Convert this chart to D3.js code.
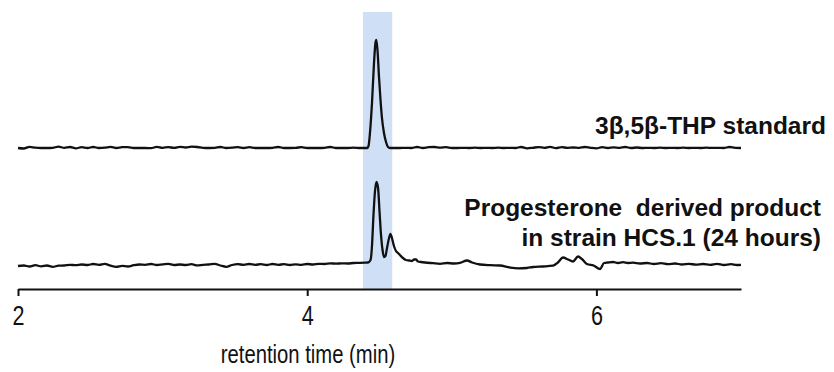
<!DOCTYPE html>
<html><head><meta charset="utf-8">
<script src="https://cdn.jsdelivr.net/npm/d3@7"></script>
<style>body{margin:0;background:#fff}svg{display:block}text{font-family:"Liberation Sans",Arial,sans-serif}</style>
</head><body><svg id="c" width="834" height="372"></svg>
<script>
// ---- data ----
const xTicks = [2, 4, 6];
const xLabel = "retention time (min)";
const band = [4.386, 4.588];
const traceNames = ["3β,5β-THP standard", "Progesterone  derived product|in strain HCS.1 (24 hours)"];
const traceOffsets = [141, 23];   // baseline of each trace, in signal units
// top trace: 3β,5β-THP standard  [time, signal]
const standard = [
[2.00,0],[2.04,-0.5],[2.08,1.2],[2.12,0.3],[2.16,0],[2.20,0],[2.24,0.2],[2.28,1.3],[2.32,0.2],[2.36,1.0],[2.40,-0.3],[2.44,0.8],[2.48,0],[2.52,1.0],[2.56,0],[2.60,0.3],[2.64,1.2],[2.68,0],[2.72,0.8],[2.76,0.9],[2.80,0],[2.84,0],[2.88,0],[2.92,-0.2],[2.96,1.2],[3.00,0.2],[3.04,0.9],[3.08,0.1],[3.12,1.1],[3.16,0.5],[3.20,1.3],[3.24,1.0],[3.28,0.2],[3.32,0],[3.36,0.1],[3.40,1.0],[3.44,0],[3.48,0.3],[3.52,0.9],[3.56,0],[3.60,0.8],[3.64,0],[3.68,0],[3.72,0],[3.76,0.2],[3.80,1.0],[3.84,0],[3.88,0],[3.92,0.1],[3.96,0.9],[4.00,0],[4.04,0],[4.08,0],[4.12,0.2],[4.16,1.0],[4.20,0],[4.24,0],[4.28,0],[4.32,0.3],[4.36,0],[4.40,0],
[4.414,0],[4.424,2],[4.434,15],[4.448,45],[4.462,85],[4.472,105],[4.478,108],[4.486,98],[4.497,70],[4.507,48],[4.517,30],[4.531,15],[4.545,6],[4.559,1],[4.573,0],
[4.60,0],[4.64,0],[4.68,0.2],[4.72,0],[4.76,1.0],[4.80,0],[4.84,0.8],[4.88,1.0],[4.92,0.3],[4.96,0.9],[5.00,0],[5.04,0],[5.08,0.2],[5.12,0],[5.16,0.3],[5.20,0],[5.24,0.2],[5.28,0],[5.32,0.3],[5.36,0],[5.40,0.2],[5.44,0],[5.48,1.0],[5.52,-0.3],[5.56,0.2],[5.60,0.9],[5.64,0.2],[5.68,1.2],[5.72,-0.2],[5.76,0.8],[5.80,0.2],[5.84,0.5],[5.88,0.1],[5.92,1.0],[5.96,0.2],[6.00,-0.3],[6.04,0.8],[6.08,0],[6.12,0.6],[6.16,0.2],[6.20,1.0],[6.24,0],[6.28,0.5],[6.32,0],[6.36,0.2],[6.40,0],[6.44,0.3],[6.48,0],[6.52,0.2],[6.56,0],[6.60,0.3],[6.64,0],[6.68,0.2],[6.72,0],[6.76,0.3],[6.80,0.1],[6.84,0.2],[6.88,0],[6.92,1.0],[6.96,0.2],[7.00,0]
];
// bottom trace: progesterone-derived product in strain HCS.1
const product = [
[2.00,0],[2.04,0.5],[2.08,-0.5],[2.12,0.8],[2.16,-0.3],[2.20,0.5],[2.24,-0.8],[2.28,0.3],[2.32,0.5],[2.36,1.2],[2.40,0.8],[2.44,1.5],[2.48,1.0],[2.52,2.0],[2.56,1.2],[2.60,2.2],[2.64,0.3],[2.68,-0.8],[2.72,0.2],[2.76,-0.5],[2.80,0.8],[2.84,1.5],[2.88,1.2],[2.92,2.0],[2.96,1.0],[3.00,1.6],[3.04,2.2],[3.08,1.0],[3.12,1.5],[3.16,1.0],[3.20,1.8],[3.24,0.6],[3.28,1.2],[3.32,1.5],[3.36,2.2],[3.40,0.5],[3.44,-0.8],[3.48,1.0],[3.52,1.8],[3.56,1.2],[3.60,2.0],[3.64,1.2],[3.68,1.8],[3.72,1.0],[3.76,2.0],[3.80,1.2],[3.84,1.8],[3.88,1.0],[3.92,1.6],[3.96,1.2],[4.00,2.0],[4.04,1.5],[4.08,2.2],[4.12,2.0],[4.16,2.6],[4.20,2.4],[4.24,2.6],[4.28,2.5],[4.32,3.0],[4.36,3.2],[4.40,3.4],
[4.420,3.5],[4.438,6],[4.448,20],[4.458,50],[4.469,75],[4.479,84],[4.490,78],[4.500,55],[4.510,32],[4.521,16],[4.531,9],[4.541,10],[4.552,18],[4.566,28],[4.576,32],[4.586,28],[4.600,20],[4.614,15],[4.628,13],[4.641,11],[4.662,8],[4.683,6],[4.704,5.5],[4.725,5],[4.739,6.5],[4.752,6.5],[4.766,4.5],[4.787,4],[4.815,3.5],
[4.870,2.8],[4.918,2.2],[4.967,3.0],[5.015,2.5],[5.057,3.2],[5.105,5.5],[5.140,3.5],[5.195,1.5],[5.264,0.8],[5.333,0.5],[5.402,-1.5],[5.458,-2.3],[5.520,-2.0],[5.562,-1.0],[5.631,-0.5],[5.700,0.3],[5.734,3.5],[5.769,8.5],[5.804,6.5],[5.838,4.5],[5.873,9.5],[5.900,7.0],[5.934,2.0],[5.983,0.3],[6.025,-3.0],[6.053,3.0],[6.080,3.5],[6.115,4.0],[6.149,3.0],[6.184,3.8],[6.218,3.0],[6.253,3.3],[6.301,2.5],[6.350,3.0],[6.398,2.0],[6.447,2.8],[6.495,1.8],[6.544,2.5],[6.592,1.5],[6.640,2.2],[6.689,1.3],[6.737,2.0],[6.786,1.2],[6.834,2.2],[6.882,1.0],[6.931,1.8],[6.972,1.0],[7.000,1.2]
];
const traces = [standard, product];

// ---- drawing ----
const svg = d3.select("#c");
const x = d3.scaleLinear().domain([2, 7]).range([18, 741]);
const y = d3.scaleLinear().domain([0, 277]).range([289, 12]);

svg.append("rect")
  .attr("x", x(band[0])).attr("width", x(band[1]) - x(band[0]))
  .attr("y", y(277)).attr("height", y(0) - y(277))
  .attr("fill", "#cfe0f6");

const line = d3.line().x(d => x(d[0])).y(d => y(d[1])).curve(d3.curveMonotoneX);
traces.forEach((tr, i) => {
  svg.append("path")
    .datum(tr.map(d => [d[0], d[1] + traceOffsets[i]]))
    .attr("d", line)
    .attr("fill", "none").attr("stroke", "#111").attr("stroke-width", 2.3)
    .attr("stroke-linejoin", "round");
});

const ax = svg.append("g").attr("transform", `translate(0,${y(0)})`)
  .call(d3.axisBottom(x).tickValues(xTicks).tickFormat(d3.format("d")).tickSize(7).tickSizeOuter(0).tickPadding(10));
ax.select(".domain").attr("stroke", "#111").attr("stroke-width", 2);
ax.selectAll(".tick line").attr("stroke", "#111").attr("stroke-width", 2);
ax.selectAll(".tick text").attr("font-size", 27).attr("fill", "#111")
  .attr("transform", "scale(0.8,1)");

svg.append("text").attr("transform", "translate(308,363) scale(0.81,1)").attr("text-anchor", "middle")
  .attr("font-size", 25).attr("fill", "#111").text(xLabel);

// labels
svg.append("text").attr("x", 826).attr("y", 134).attr("text-anchor", "end")
  .attr("font-size", 24.5).attr("font-weight", "bold").attr("fill", "#111").text(traceNames[0]);
traceNames[1].split("|").forEach((s, k) => {
  svg.append("text").attr("x", 821).attr("y", 216 + k * 30).attr("text-anchor", "end")
    .attr("font-size", 24.5).attr("font-weight", "bold").attr("fill", "#111")
    .attr("xml:space", "preserve").style("white-space", "pre").text(s);
});
</script></body></html>
